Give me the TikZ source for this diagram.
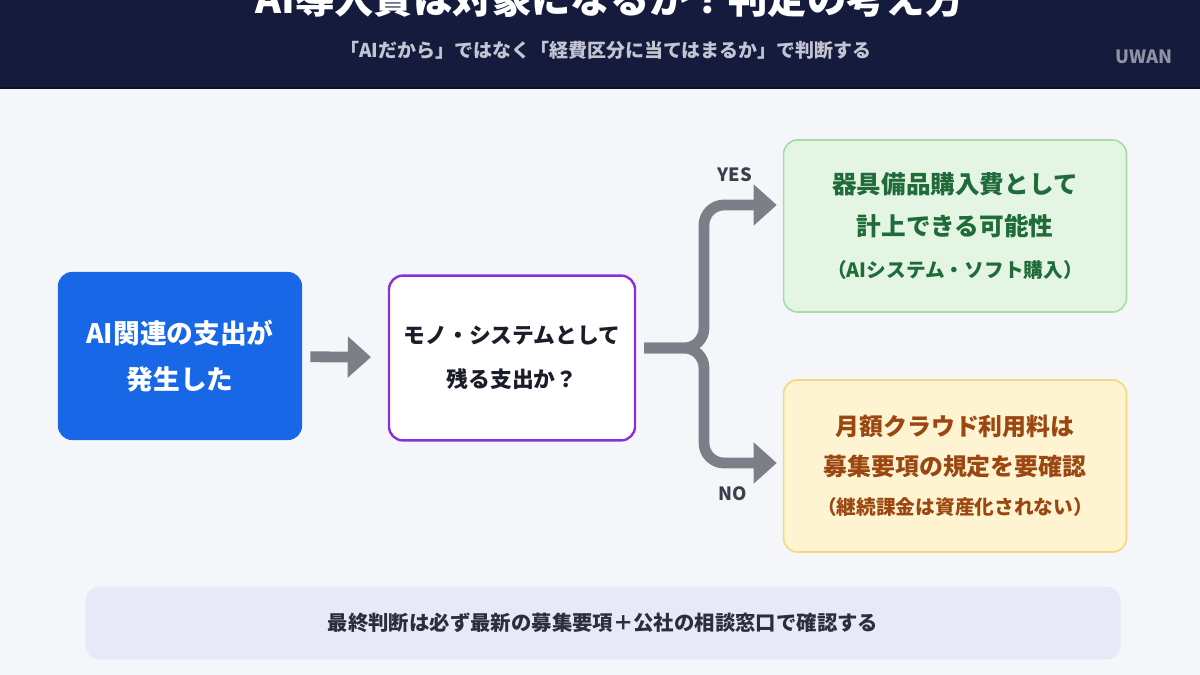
\documentclass[tikz,border=0pt]{standalone}
\usepackage{fontspec}
\newfontfamily\jp{Noto Sans CJK JP}
\usetikzlibrary{arrows.meta,calc}
\definecolor{headnavy}{HTML}{151B3D}
\definecolor{headline}{HTML}{0B1030}
\definecolor{pagebg}{HTML}{F5F6F9}
\definecolor{subgray}{HTML}{C3C6D2}
\definecolor{markgray}{HTML}{8E93A3}
\definecolor{startblue}{HTML}{1767E6}
\definecolor{askpurple}{HTML}{8B2FD6}
\definecolor{asktext}{HTML}{1B1D2B}
\definecolor{yesfill}{HTML}{E4F5E3}
\definecolor{yesdraw}{HTML}{A6DCA6}
\definecolor{yestext}{HTML}{1F6B3A}
\definecolor{nofill}{HTML}{FFF4D1}
\definecolor{nodraw}{HTML}{F4D77E}
\definecolor{notext}{HTML}{9A4712}
\definecolor{notefill}{HTML}{E7E9F9}
\definecolor{notetext}{HTML}{2B2E3F}
\definecolor{flowgray}{HTML}{7C7F88}
\definecolor{lbltext}{HTML}{3C3F4A}
\begin{document}
\begin{tikzpicture}[
    x=0.025cm, y=-0.025cm,
    box/.style={rounded corners=0.35cm, align=center, inner sep=0pt},
    flow/.style={draw=flowgray, line width=0.27cm, -{Triangle[width=1.0cm,length=0.58cm]}},
    lbl/.style={font=\jp\bfseries\fontsize{13}{15}\selectfont, text=lbltext}
    ]

    \clip (0,0) rectangle (1200,675);
    \fill[pagebg] (0,0) rectangle (1200,675);
    \fill[headnavy] (0,0) rectangle (1200,88);
    \draw[headline, line width=0.06cm] (0,88) -- (1200,88);

    \node (title) at (610,-1) [font=\jp\bfseries\fontsize{28}{32}\selectfont, text=white]
        {AI導入費は対象になるか？判定の考え方};
    \node (subtitle) at (606,50) [font=\jp\bfseries\fontsize{13.5}{16}\selectfont, text=subgray]
        {「AIだから」ではなく「経費区分に当てはまるか」で判断する};
    \node (brand) at (1144,57) [font=\jp\bfseries\fontsize{13}{15}\selectfont, text=markgray] {UWAN};

    \node (start) at (180,356) [box, fill=startblue, text=white, minimum width=6.1cm, minimum height=4.2cm,
        font=\jp\bfseries\fontsize{19}{33}\selectfont] {AI関連の支出が\\発生した};
    \node (ask) at (512,358) [box, fill=white, draw=askpurple, line width=0.06cm, text=asktext,
        minimum width=6.15cm, minimum height=4.12cm,
        font=\jp\bfseries\fontsize{15.5}{31}\selectfont] {モノ・システムとして\\残る支出か？};
    \node (yes) at (955,226) [box, fill=yesfill, draw=yesdraw, line width=0.04cm, text=yestext,
        minimum width=8.57cm, minimum height=4.3cm,
        font=\jp\bfseries\fontsize{17.5}{30}\selectfont]
        {器具備品購入費として\\計上できる可能性\\{\fontsize{14}{26}\selectfont （AIシステム・ソフト購入）}};
    \node (no) at (955,466) [box, fill=nofill, draw=nodraw, line width=0.04cm, text=notext,
        minimum width=8.57cm, minimum height=4.3cm,
        font=\jp\bfseries\fontsize{17}{28}\selectfont]
        {月額クラウド利用料は\\募集要項の規定を要確認\\{\fontsize{14}{26}\selectfont （継続課金は資産化されない）}};
    \node (note) at (603,623) [box, fill=notefill, text=notetext, minimum width=25.87cm, minimum height=1.82cm,
        font=\jp\bfseries\fontsize{14.5}{17}\selectfont]
        {最終判断は必ず最新の募集要項＋公社の相談窓口で確認する};

    \node (yeslbl) at (735,175) [lbl] {YES};
    \node (nolbl) at (733,494) [lbl] {NO};

    \coordinate (fork) at (704,348);

    \draw[flow, shorten <=0.2cm, shorten >=0.42cm] (start) -- (ask);
    \draw[flow, rounded corners=0.5cm, shorten <=0.2cm, shorten >=0.15cm]
        (ask.east |- fork) -- (fork) |- ($(yes.west)+(0,-21)$);
    \draw[flow, rounded corners=0.5cm, shorten <=0.2cm, shorten >=0.15cm]
        (ask.east |- fork) -- (fork) |- ($(no.west)+(0,-3)$);

\end{tikzpicture}
\end{document}
